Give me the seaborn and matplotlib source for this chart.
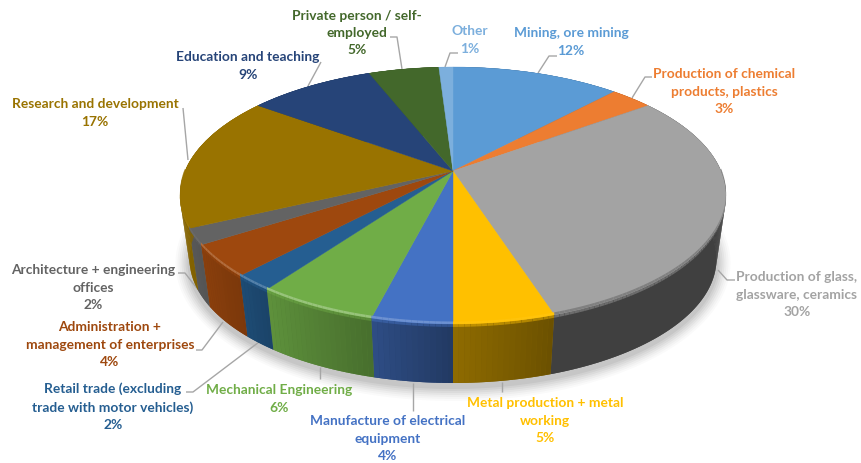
import numpy as np
import matplotlib
matplotlib.use("Agg")
import matplotlib.pyplot as plt
from matplotlib.collections import PolyCollection
from matplotlib.transforms import Transform
import seaborn as sns

categories = [
    "Mining, ore mining",
    "Production of chemical\nproducts, plastics",
    "Production of glass,\nglassware, ceramics",
    "Metal production + metal\nworking",
    "Manufacture of electrical\nequipment",
    "Mechanical Engineering",
    "Retail trade (excluding\ntrade with motor vehicles)",
    "Administration +\nmanagement of enterprises",
    "Architecture + engineering\noffices",
    "Research and development",
    "Education and teaching",
    "Private person / self-\nemployed",
    "Other",
]
shares = [12, 3, 30, 5, 4, 6, 2, 4, 2, 17, 9, 5, 1]
slice_colors = ["#5B9BD5", "#ED7D31", "#A3A3A3", "#FFC000", "#4472C4", "#70AD47", "#255E91",
                "#9E480E", "#636363", "#997300", "#264478", "#43682B", "#7CAFDD"]
# brightness of each slice's side wall at its clockwise start and end
wall_shade = [(.6, .6), (.6, .6), (.39, .39), (.42, .56), (.5, .68), (.64, .84), (.72, .8),
              (.78, .88), (.85, .9), (.85, .9), (.7, .7), (.7, .7), (.7, .7)]
# how much the front rim of each top face is lightened
rim_light = [0, 0, 0, .04, .22, .28, .22, .2, .05, .05, 0, 0, 0]

label_centers = [(571, 42), (724, 91.5), (797, 295), (545, 421), (388, 439), (279, 399), (113, 407),
                 (110, 345), (93, 288), (95, 113), (248, 66), (357, 33), (470, 40)]
leader_lines = [
    [(538, 74), (549, 57), (557, 57)],
    [(632, 99), (645, 78), (652, 78)],
    [(718, 271), (727, 281), (735, 281)],
    [(502, 383), (502, 393)],
    [(413, 384), (413, 412)],
    [(320, 368), (320, 380)],
    [(259, 343), (193, 393), (186, 393)],
    [(223, 323), (202, 351), (196, 351)],
    [(203, 297), (185, 274), (178, 274)],
    [(188, 161), (183, 109)],
    [(308, 87), (321, 63)],
    [(402, 70), (397, 38), (390, 38)],
    [(445, 68), (450, 54), (458, 54)],
]

# Projection of the unit disk onto the tilted pie, in figure pixels
CX, CY = 453.0, 172.0
SEMI_X, SEMI_Y, TILT = 268.0, 123.8, 0.1907
MID_Y, BASE_MID_Y, BASE_SCALE = 196.5, 260.0, 0.965
RIM_PIXELS = 2.5


def project(x, y):
    d = 1 + TILT * y
    return CX + SEMI_X * x / d, CY - SEMI_Y * y / d


class DiskProjection(Transform):
    input_dims = output_dims = 2

    def transform_non_affine(self, values):
        px, py = project(values[:, 0], values[:, 1])
        return np.column_stack([px, py])


def rim_point(theta, drop=0.0):
    """Point on the pie edge at clockwise angle theta; drop runs 0..1 from top face to base."""
    tx, ty = project(np.sin(theta), np.cos(theta))
    bx = CX + BASE_SCALE * (tx - CX)
    by = BASE_MID_Y + BASE_SCALE * (ty - MID_Y)
    return tx + (bx - tx) * drop, ty + (by - ty) * drop


def wall_quad(a, b, v0, v1):
    return [rim_point(a, v0), rim_point(b, v0), rim_point(b, v1), rim_point(a, v1)]


def mix(a, b, f):
    return tuple((1 - f) * np.array(a) + f * np.array(b))


sns.set_theme(style="white")
plt.rcParams["font.family"] = ["Lato", "DejaVu Sans"]
palette = sns.color_palette(slice_colors)

fig, ax = plt.subplots(figsize=(8.61, 4.64), dpi=100)
fig.subplots_adjust(0, 0, 1, 1)

wedges, _ = ax.pie(shares, colors=palette, startangle=90, counterclock=False,
                   wedgeprops={"linewidth": 0.3, "zorder": 5})
ax.set_aspect("auto")
ax.set_xlim(0, 861)
ax.set_ylim(464, 0)
ax.axis("off")

disk_to_axes = DiskProjection() + ax.transData
for wedge, color in zip(wedges, palette):
    wedge.set_transform(disk_to_axes)
    wedge.set_edgecolor(color)

# soft shadow around the base
theta_all = np.linspace(0, 2 * np.pi, 361)
for grow, alpha in zip(np.linspace(14, 2, 7), np.linspace(.018, .05, 7)):
    sx, sy = rim_point(theta_all, drop=1.0)
    ax.fill(CX + (sx - CX) * (1 + grow / 262), BASE_MID_Y + 4 + (sy - BASE_MID_Y) * (1 + grow / 124),
            color="black", alpha=alpha, lw=0, zorder=1)

# side wall, rim band and bevel, built from the slice angles
edges = np.cumsum([0] + shares) / sum(shares) * 2 * np.pi
bases, base_colors, base_depth = [], [], []
strips, strip_colors = [], []
rims, rim_colors = [], []
for i, color in enumerate(palette):
    n = max(int(np.degrees(edges[i + 1] - edges[i])), 2)
    steps = np.linspace(edges[i], edges[i + 1], n + 1)
    fine = np.linspace(edges[i], edges[i + 1], 3 * n + 1)
    outline = [rim_point(t) for t in fine] + [rim_point(t, 1.0) for t in fine[::-1]]
    mean_shade = sum(wall_shade[i]) / 2
    bases.append(outline)
    base_colors.append(tuple(c * mean_shade for c in color))
    base_depth.append(np.mean([p[1] for p in outline]))
    for j in range(n):
        a, b = steps[j], steps[j + 1]
        shade = wall_shade[i][0] + (wall_shade[i][1] - wall_shade[i][0]) * (j + .5) / n
        wall = tuple(c * shade for c in color)
        strips.append(wall_quad(a, b, 0, 1))
        strip_colors.append(wall)
        strips.append(wall_quad(a, b, 0, .05))
        strip_colors.append(mix(color, wall, .55))
        if np.cos((a + b) / 2) < 0:
            tone = mix(color, (1, 1, 1), rim_light[i]) if rim_light[i] else mix(color, wall, .35)
            xa, ya = rim_point(a)
            xb, yb = rim_point(b)
            rims.append([(xa, ya - RIM_PIXELS), (xb, yb - RIM_PIXELS), (xb, yb), (xa, ya)])
            rim_colors.append(tone)

order = np.argsort(base_depth)
ax.add_collection(PolyCollection([bases[k] for k in order],
                                 facecolors=[base_colors[k] for k in order],
                                 linewidths=0, zorder=3))
ax.add_collection(PolyCollection(strips, facecolors=strip_colors, linewidths=0, zorder=4))
ax.add_collection(PolyCollection(rims, facecolors=rim_colors, linewidths=0, zorder=6))

# leader lines and data labels
for line in leader_lines:
    xs, ys = zip(*line)
    ax.plot(xs, ys, color="#A6A6A6", lw=1.0, zorder=2, solid_capstyle="butt")

for name, share, (lx, ly), color in zip(categories, shares, label_centers, palette):
    ax.text(lx, ly, f"{name}\n{share}%", color=color, ha="center", va="center",
            fontsize=9.95, fontweight="bold", linespacing=1.55, zorder=8)

fig.savefig("out.png", dpi=100, facecolor="white")
